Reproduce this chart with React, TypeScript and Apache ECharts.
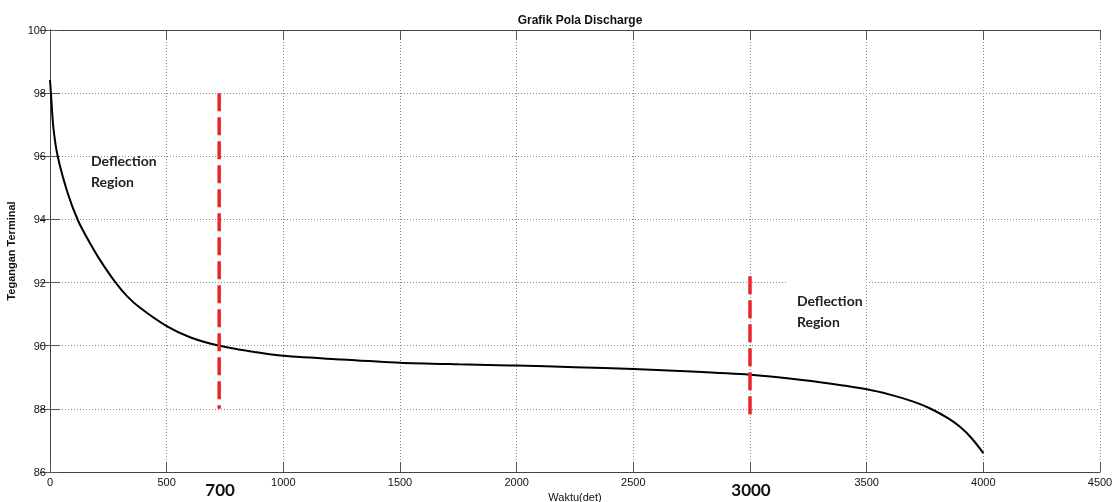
import React, { useEffect, useRef } from "react";
import * as echarts from "echarts";

const timeSec = [0, 4, 14, 33, 76, 121, 171, 214, 279, 329, 386, 500, 600, 726, 886, 1000, 1250, 1500, 1750, 2000, 2250, 2500, 2750, 3000, 3130, 3300, 3500, 3600, 3700, 3770, 3850, 3900, 3950, 4000];
const voltage = [98.42, 98.0, 96.94, 96.0, 94.83, 93.95, 93.25, 92.72, 92.02, 91.58, 91.2, 90.62, 90.27, 90.0, 89.79, 89.68, 89.56, 89.46, 89.41, 89.37, 89.32, 89.26, 89.18, 89.08, 88.99, 88.84, 88.62, 88.45, 88.23, 88.02, 87.7, 87.43, 87.07, 86.6];

const markerTimes = [725, 3000];
const markerLabels = ["700", "3000"];
const markerTop = [98, 92.2];
const markerBottom = [88, 87.7];

const noteText = "Deflection\nRegion";
const noteAnchors = [[176, 95.9], [3201, 91.48]];

const hiddenTickLabels = [3000];
const xTicks = { min: 0, max: 4500, interval: 500 };
const yTicks = { min: 86, max: 100, interval: 2 };

export default function App() {
  const ref = useRef<HTMLDivElement>(null);
  useEffect(() => {
    if (!ref.current) return;
    const chart = echarts.init(ref.current, null, { renderer: "svg" });
    const axisLine = { show: true, lineStyle: { color: "#444", width: 1 } };
    const tick = { show: true, inside: true, length: 10, lineStyle: { color: "#555" } };
    const label = { color: "#111", fontFamily: "Liberation Sans", fontSize: 11 };
    const split = { show: true, lineStyle: { type: [1, 2] as any, color: "#8a8a8a", width: 1 } };
    const markerSeries = markerTimes.map((t, i) => ({
      type: "line",
      data: [[t, markerTop[i]], [t, markerBottom[i]]],
      showSymbol: false,
      lineStyle: { color: "#e8262b", width: 3.5, type: [18, 6] as any },
      z: 5,
    }));
    chart.setOption({
      animation: false,
      title: {
        text: "Grafik Pola Discharge",
        left: 575,
        top: 9,
        textAlign: "center",
        textStyle: { fontFamily: "Liberation Sans", fontSize: 12, fontWeight: "bold", color: "#111" },
      },
      grid: { left: 50, right: 16, top: 30, bottom: 30, containLabel: false, outerBoundsMode: "none" },
      xAxis: [
        {
          type: "value",
          ...xTicks,
          axisLine,
          axisTick: tick,
          axisLabel: {
            ...label,
            margin: 4,
            formatter: (v: number) => (hiddenTickLabels.includes(v) ? "" : String(v)),
          },
          splitLine: split,
          name: "Waktu(det)",
          nameLocation: "middle",
          nameGap: 15,
          nameTextStyle: { fontFamily: "Liberation Sans", fontSize: 11, color: "#111" },
        },
        {
          type: "value",
          position: "top",
          ...xTicks,
          axisLine,
          axisTick: tick,
          axisLabel: { show: false },
          splitLine: { show: false },
        },
      ],
      yAxis: [
        {
          type: "value",
          ...yTicks,
          axisLine,
          axisTick: tick,
          axisLabel: { ...label, margin: 4 },
          splitLine: split,
          name: "Tegangan Terminal",
          nameLocation: "middle",
          nameGap: 28,
          nameTextStyle: { fontFamily: "Liberation Sans", fontSize: 11, fontWeight: "bold", color: "#111" },
        },
        {
          type: "value",
          position: "right",
          ...yTicks,
          axisLine,
          axisTick: tick,
          axisLabel: { show: false },
          splitLine: { show: false },
        },
      ],
      series: [
        {
          type: "line",
          data: timeSec.map((t, i) => [t, voltage[i]]),
          showSymbol: false,
          smooth: 0.25,
          lineStyle: { color: "#000", width: 2 },
          z: 3,
        },
        ...markerSeries,
      ],
    });

    const graphics: any[] = [];
    markerTimes.forEach((t, i) => {
      const p = chart.convertToPixel({ xAxisIndex: 0, yAxisIndex: 0 }, [t, yTicks.min]) as number[];
      graphics.push({
        type: "text",
        x: p[0] + 1,
        y: p[1] + 17,
        style: {
          text: markerLabels[i],
          font: "bold 17px Lato",
          fill: "#111",
          align: "center",
          verticalAlign: "middle",
        },
        z: 10,
      });
    });
    noteAnchors.forEach((a, i) => {
      const p = chart.convertToPixel({ xAxisIndex: 0, yAxisIndex: 0 }, a) as number[];
      if (i === 1) {
        graphics.push({
          type: "rect",
          shape: { x: p[0] - 9, y: p[1] - 25, width: 78, height: 69 },
          style: { fill: "#fff" },
          z: 1,
        });
      }
      graphics.push({
        type: "text",
        x: p[0],
        y: p[1] - 9,
        style: {
          text: noteText,
          font: "bold 14px Lato",
          lineHeight: 21,
          fill: "#222",
          align: "left",
          verticalAlign: "top",
        },
        z: 10,
      });
    });
    chart.setOption({ graphic: graphics });

    return () => chart.dispose();
  }, []);
  return <div ref={ref} style={{ position: "fixed", left: 0, top: 0, width: 1116, height: 502 }} />;
}
